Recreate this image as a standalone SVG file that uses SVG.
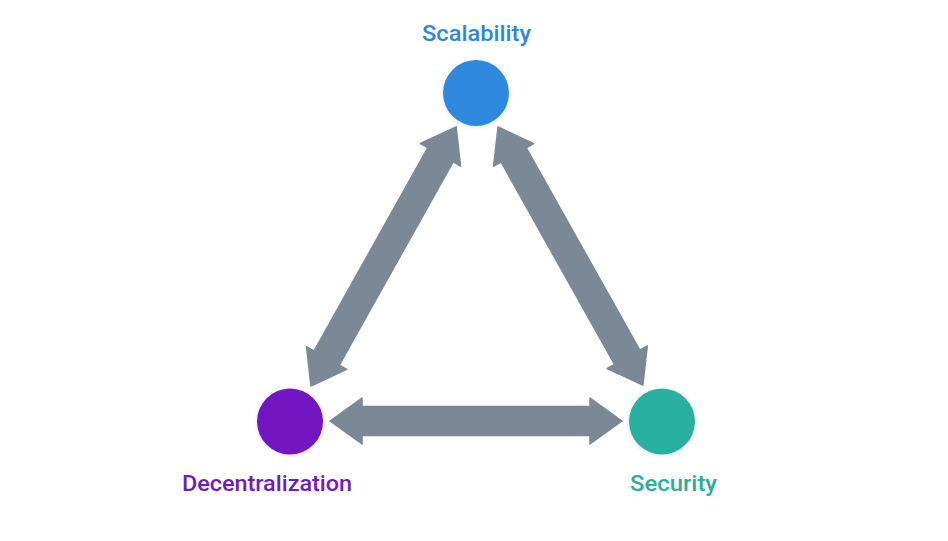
<svg xmlns="http://www.w3.org/2000/svg" width="948" height="541" viewBox="0 0 948 541">
  <style>
    .lbl { font-family: Roboto, "Liberation Sans", sans-serif; font-size: 22px; font-weight: 500; text-anchor: middle; }
    .arrow { fill: #7b8895; stroke: #7b8895; stroke-width: 1.5; stroke-linejoin: round; }
  </style>
  <defs>
    <filter id="glow" x="-30%" y="-30%" width="160%" height="160%">
      <feDropShadow dx="0" dy="1" stdDeviation="2" flood-color="#000" flood-opacity="0.12"/>
    </filter>
  </defs>
  <rect width="948" height="541" fill="#ffffff"/>
  <g id="connectors">
    <path id="edge-bottom" class="arrow" transform="translate(330,421)" d="M0,0 L32,-23 L32,-14.5 L260,-14.5 L260,-23 L292,0 L260,23 L260,14.5 L32,14.5 L32,23 Z"/>
    <path id="edge-left" class="arrow" transform="translate(311,386) rotate(-60.75)" d="M0,0 L32,-23 L32,-14.5 L265,-14.5 L265,-23 L297,0 L265,23 L265,14.5 L32,14.5 L32,23 Z"/>
    <path id="edge-right" class="arrow" transform="translate(498,127) rotate(60.7)" d="M0,0 L32,-23 L32,-14.5 L264,-14.5 L264,-23 L296,0 L264,23 L264,14.5 L32,14.5 L32,23 Z"/>
  </g>
  <g id="node-scalability">
    <circle cx="476" cy="93" r="33" fill="#2d88db" filter="url(#glow)"/>
    <text class="lbl" x="476.5" y="41" fill="#2e88d6" textLength="109" lengthAdjust="spacingAndGlyphs">Scalability</text>
  </g>
  <g id="node-decentralization">
    <circle cx="290" cy="421.5" r="33" fill="#7219c2" filter="url(#glow)"/>
    <text class="lbl" x="267" y="491" fill="#7219bf" textLength="170" lengthAdjust="spacingAndGlyphs">Decentralization</text>
  </g>
  <g id="node-security">
    <circle cx="662" cy="421.5" r="33" fill="#2cb0a0" filter="url(#glow)"/>
    <text class="lbl" x="673.5" y="491" fill="#2aae9e" textLength="87" lengthAdjust="spacingAndGlyphs">Security</text>
  </g>
</svg>
